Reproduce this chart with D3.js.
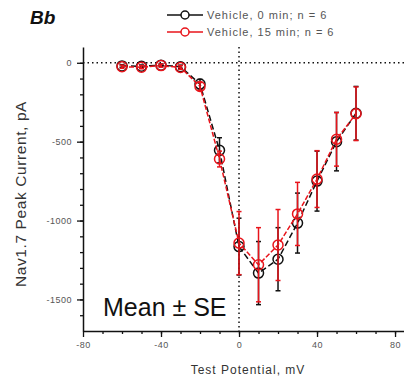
<!DOCTYPE html>
<html>
<head>
<meta charset="utf-8">
<script src="https://cdn.jsdelivr.net/npm/d3@7"></script>
<style>
  body { margin: 0; background: #fff; }
  svg { display: block; font-family: "Liberation Sans", Arial, sans-serif; }
</style>
</head>
<body>
<div id="chart"></div>
<script>
// test potentials (mV)
var volt = [-60, -50, -40, -30, -20, -10, 0, 10, 20, 30, 40, 50, 60];
// Vehicle, 0 min
var veh0 = [-20, -22, -15, -25, -135, -555, -1165, -1333, -1245, -1016, -750, -500, -320];
var veh0Se = [8, 8, 8, 10, 30, 80, 180, 200, 200, 190, 190, 185, 170];
// Vehicle, 15 min
var veh15 = [-25, -28, -18, -30, -150, -610, -1143, -1280, -1155, -958, -737, -485, -323];
var veh15Se = [10, 10, 10, 12, 25, 50, 200, 235, 225, 200, 180, 170, 170];

var xTicks = [-80, -40, 0, 40, 80];
var yTicks = [0, -500, -1000, -1500];

var w = 404, h = 377;
var svg = d3.select('#chart').append('svg')
  .attr('width', w)
  .attr('height', h);

var x = d3.scaleLinear().domain([-80, 84.6]).range([83, 404]);
var y = d3.scaleLinear().domain([-1700, 100]).range([331, 47]);

var series = [
  {name: 'Vehicle, 0 min; n = 6', vals: veh0, se: veh0Se, color: '#111', dash: '6,3'},
  {name: 'Vehicle, 15 min; n = 6', vals: veh15, se: veh15Se, color: '#e8141b', dash: '5,2'}
];

var plain = function(d){ return String(d); };

// dotted zero lines
svg.append('line')
  .attr('x1', x(-80)).attr('x2', w)
  .attr('y1', y(0)).attr('y2', y(0))
  .attr('stroke', '#111').attr('stroke-width', 1.5)
  .attr('stroke-dasharray', '1.5,3');
svg.append('line')
  .attr('x1', x(0)).attr('x2', x(0))
  .attr('y1', y(100)).attr('y2', y(-1700))
  .attr('stroke', '#111').attr('stroke-width', 1.5)
  .attr('stroke-dasharray', '1.5,3');

// minor ticks
svg.append('g')
  .attr('transform', 'translate(0,' + y(-1700) + ')')
  .call(d3.axisBottom(x).tickValues(d3.range(-70, 81, 10)).tickSize(3).tickFormat(''))
  .call(function(g){ g.select('.domain').remove(); });
svg.append('g')
  .attr('transform', 'translate(' + x(-80) + ',0)')
  .call(d3.axisLeft(y).tickValues(d3.range(-1600, 1, 100)).tickSize(3).tickFormat(''))
  .call(function(g){ g.select('.domain').remove(); });

// major axes
svg.append('g')
  .attr('transform', 'translate(0,' + y(-1700) + ')')
  .call(d3.axisBottom(x).tickValues(xTicks).tickFormat(plain).tickSize(6).tickSizeOuter(0).tickPadding(5));
svg.append('g')
  .attr('transform', 'translate(' + x(-80) + ',0)')
  .call(d3.axisLeft(y).tickValues(yTicks).tickFormat(plain).tickSize(6).tickSizeOuter(0).tickPadding(5));

svg.selectAll('.domain').attr('stroke', '#111').attr('stroke-width', 1.5);
svg.selectAll('.tick line').attr('stroke', '#111').attr('stroke-width', 1.3);
svg.selectAll('.tick text')
  .attr('fill', '#555')
  .style('font-size', '9px')
  .style('letter-spacing', '0.5px');

// data
series.forEach(function(s){
  var pts = volt.map(function(v, i){ return {x: v, y: s.vals[i], se: s.se[i]}; });
  var g = svg.append('g');

  g.append('path')
    .datum(pts)
    .attr('d', d3.line().x(function(d){ return x(d.x); }).y(function(d){ return y(d.y); }))
    .attr('fill', 'none')
    .attr('stroke', s.color)
    .attr('stroke-width', 1.5)
    .attr('stroke-dasharray', s.dash);

  var bars = g.selectAll('.err').data(pts).enter().append('g');
  bars.append('line')
    .attr('x1', function(d){ return x(d.x); })
    .attr('x2', function(d){ return x(d.x); })
    .attr('y1', function(d){ return y(d.y + d.se); })
    .attr('y2', function(d){ return y(d.y - d.se); })
    .attr('stroke', s.color).attr('stroke-width', 1.5);
  [1, -1].forEach(function(sign){
    bars.append('line')
      .attr('x1', function(d){ return x(d.x) - 2.5; })
      .attr('x2', function(d){ return x(d.x) + 2.5; })
      .attr('y1', function(d){ return y(d.y + sign * d.se); })
      .attr('y2', function(d){ return y(d.y + sign * d.se); })
      .attr('stroke', s.color).attr('stroke-width', 1.5);
  });

  g.selectAll('circle').data(pts).enter().append('circle')
    .attr('cx', function(d){ return x(d.x); })
    .attr('cy', function(d){ return y(d.y); })
    .attr('r', 5)
    .attr('fill', 'none')
    .attr('stroke', s.color)
    .attr('stroke-width', 1.5);
});

// legend
series.forEach(function(s, i){
  var ly = 15 + i * 17;
  svg.append('line')
    .attr('x1', 167).attr('x2', 203).attr('y1', ly).attr('y2', ly)
    .attr('stroke', s.color).attr('stroke-width', 1.5);
  svg.append('circle')
    .attr('cx', 185).attr('cy', ly).attr('r', 4)
    .attr('fill', '#fff').attr('stroke', s.color).attr('stroke-width', 1.5);
  svg.append('text')
    .attr('x', 207).attr('y', ly + 4)
    .attr('fill', '#555')
    .style('font-size', '11px')
    .style('letter-spacing', '1px')
    .text(s.name);
});

// labels
svg.append('text')
  .attr('x', 30).attr('y', 24)
  .style('font-size', '19px')
  .style('font-style', 'italic')
  .style('font-weight', 'bold')
  .attr('fill', '#111')
  .text('Bb');

svg.append('text')
  .attr('transform', 'translate(26,' + 194 + ') rotate(-90)')
  .attr('text-anchor', 'middle')
  .attr('fill', '#333')
  .style('font-size', '15.5px')
  .style('letter-spacing', '0.6px')
  .text('Nav1.7 Peak Current, pA');

svg.append('text')
  .attr('x', 248).attr('y', 374)
  .attr('text-anchor', 'middle')
  .attr('fill', '#333')
  .style('font-size', '12px')
  .style('letter-spacing', '1px')
  .text('Test Potential, mV');

svg.append('text')
  .attr('x', 103).attr('y', 316)
  .attr('fill', '#111')
  .style('font-size', '25px')
  .text('Mean \u00b1 SE');
</script>
</body>
</html>
